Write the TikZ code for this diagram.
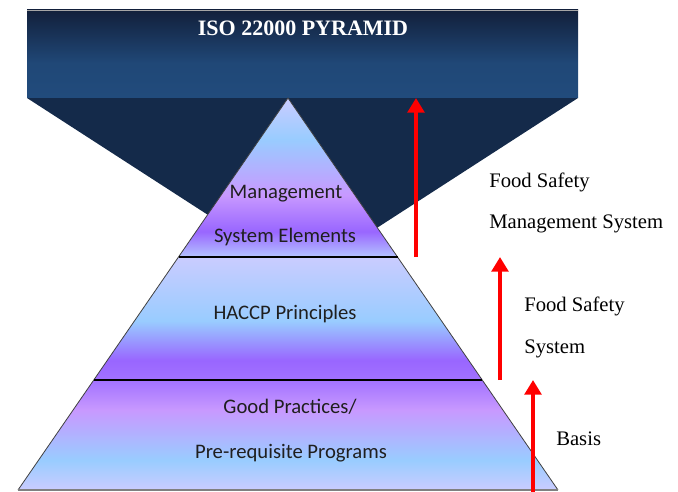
\documentclass[tikz,border=0pt]{standalone}
\usepackage{fontspec}
\setmainfont{Liberation Serif}
\newfontfamily\calibri{Carlito}
\usetikzlibrary{arrows.meta}

\definecolor{bannertop}{HTML}{12203B}
\definecolor{bannerbot}{HTML}{214B7C}
\definecolor{funnelblue}{HTML}{142A4A}
\definecolor{lav}{HTML}{CACCFF}
\definecolor{lavblue}{HTML}{B4C4FF}
\definecolor{sky}{HTML}{99CCFF}
\definecolor{orchid}{HTML}{C899FF}
\definecolor{pviolet}{HTML}{9966FF}
\definecolor{pviolet2}{HTML}{A272FF}

\pgfdeclareverticalshading{bannershade}{100bp}{color(0bp)=(bannerbot); color(25bp)=(bannerbot); color(45bp)=(bannerbot!92!bannertop); color(75bp)=(bannertop); color(100bp)=(bannertop)}
\pgfdeclareverticalshading{topshade}{100bp}{color(0bp)=(lavblue); color(25bp)=(lavblue); color(33bp)=(pviolet); color(44.5bp)=(orchid); color(62bp)=(sky); color(75bp)=(lav); color(100bp)=(lav)}
\pgfdeclareverticalshading{midshade}{100bp}{color(0bp)=(pviolet2); color(25bp)=(pviolet2); color(33bp)=(pviolet); color(49bp)=(sky); color(75bp)=(lav); color(100bp)=(lav)}
\pgfdeclareverticalshading{baseshade}{100bp}{color(0bp)=(lav); color(25bp)=(lav); color(38.6bp)=(sky); color(61.4bp)=(orchid); color(75bp)=(pviolet2); color(100bp)=(pviolet2)}

\begin{document}
\begin{tikzpicture}[x=0.75pt, y=-0.75pt]
    % Define styles
    \tikzstyle{layertext} = [font=\calibri\fontsize{15.5}{18}\selectfont, text=black!88, inner sep=0pt, anchor=base]
    \tikzstyle{sidetext} = [font=\fontsize{15.5}{18}\selectfont, text=black, inner sep=0pt, anchor=base west]
    \tikzstyle{divider} = [draw=black, line width=0.9pt]
    \tikzstyle{uparrow} = [draw=red, line width=3.6pt, -{Triangle[width=12.5pt, length=11pt]}]

    \useasboundingbox (0,0) rectangle (678,492);

    % Banner and funnel
    \fill[funnelblue] (27,98) -- (578,98) -- (302.5,276) -- cycle;
    \shade[shading=bannershade] (27,10) rectangle (578,98);
    \draw[gray!70, line width=0.6pt] (27,10) -- (578,10);

    % Pyramid layers
    \shade[shading=topshade] (288,98) -- (397.5,257) -- (178.5,257) -- cycle;
    \shade[shading=midshade] (178.5,257) -- (397.5,257) -- (482.2,380) -- (93.8,380) -- cycle;
    \shade[shading=baseshade] (93.8,380) -- (482.2,380) -- (558,490) -- (18,490) -- cycle;
    \draw[black!75, line width=0.6pt] (18,490) -- (288,98) -- (558,490);
    \draw[gray, line width=1.6pt] (18,490) -- (558,490);
    \draw[divider] (178.5,257) -- (397.5,257);
    \draw[divider] (93.8,380) -- (482.2,380);

    % Nodes
    \node (title) [anchor=base, inner sep=0pt, text=white, font=\bfseries\fontsize{16.5}{19}\selectfont] at (303,36) {ISO 22000 PYRAMID};
    \node (mgmt1) [layertext] at (286,198) {Management};
    \node (mgmt2) [layertext] at (285,242) {System Elements};
    \node (haccp) [layertext] at (285,319) {HACCP Principles};
    \node (gp1) [layertext] at (290,413) {Good Practices/};
    \node (gp2) [layertext] at (291,458) {Pre-requisite Programs};
    \node (fsms1) [sidetext] at (489,187) {Food Safety};
    \node (fsms2) [sidetext] at (489,228) {Management System};
    \node (fss1) [sidetext] at (524,311) {Food Safety};
    \node (fss2) [sidetext] at (524,353) {System};
    \node (basis) [sidetext] at (556,445) {Basis};

    \coordinate (fsmsfrom) at (416,257);
    \coordinate (fsmsto) at (416,98);
    \coordinate (fssfrom) at (500,380);
    \coordinate (fssto) at (500,257);
    \coordinate (basisfrom) at (533,492);
    \coordinate (basisto) at (533,380);

    % Arrows
    \draw [uparrow] (fsmsfrom) -- (fsmsto);
    \draw [uparrow] (fssfrom) -- (fssto);
    \draw [uparrow] (basisfrom) -- (basisto);
\end{tikzpicture}
\end{document}
